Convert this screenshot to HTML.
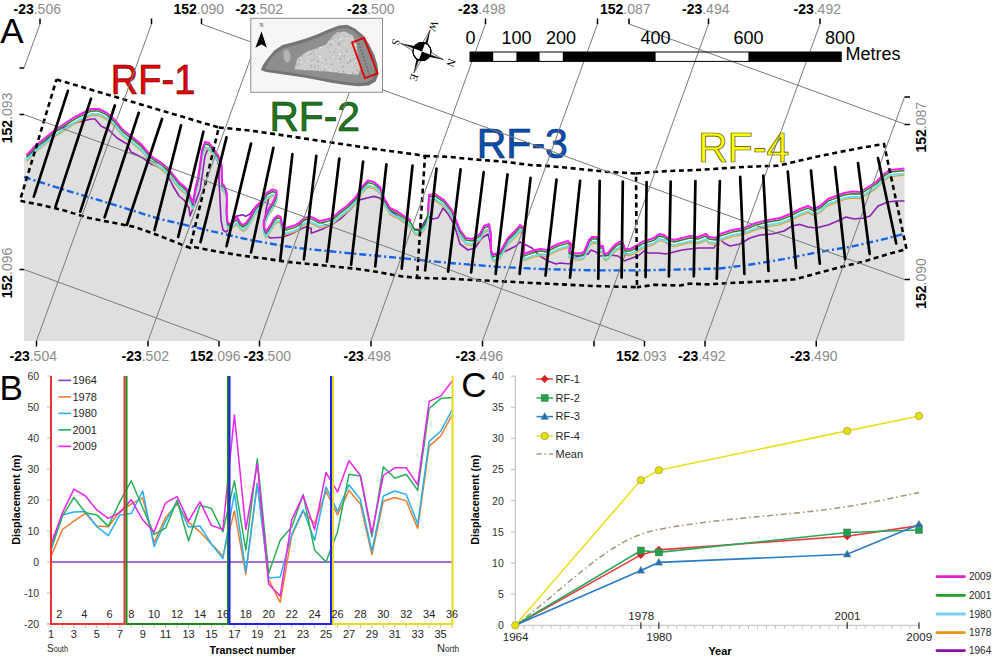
<!DOCTYPE html>
<html><head><meta charset="utf-8"><style>
html,body{margin:0;padding:0;background:#fff;}
svg{display:block;}
</style></head><body>
<svg width="1000" height="658" viewBox="0 0 1000 658">
<rect width="1000" height="658" fill="#fff"/>
<polygon points="24.0,341.0 24.0,157.5 26.5,156.7 28.0,155.2 35.0,148.4 45.0,142.6 55.0,136.6 64.0,130.6 73.0,124.6 81.0,120.6 91.0,115.6 99.0,115.6 107.0,119.6 115.0,126.6 123.0,136.6 131.0,142.6 141.0,150.6 151.0,162.6 163.0,170.6 171.0,178.6 179.0,188.6 186.0,194.6 190.0,202.6 193.0,209.6 195.0,196.6 198.0,184.6 200.0,171.6 202.0,156.6 205.0,148.6 209.0,149.6 213.0,154.6 218.0,161.6 221.6,171.6 222.0,189.6 225.0,193.6 227.0,200.6 226.5,216.6 227.5,228.6 230.0,231.1 234.0,226.1 237.6,224.6 240.0,229.1 243.0,231.6 246.5,229.1 250.5,223.1 255.0,214.6 259.9,209.3 266.8,199.4 272.7,196.0 276.7,197.5 276.2,202.4 272.7,209.3 269.3,214.3 266.3,220.2 263.8,227.1 263.8,233.1 265.8,238.0 268.0,235.6 271.3,230.1 274.2,225.1 277.7,222.2 280.6,223.2 281.6,228.6 283.6,235.0 289.5,233.6 294.5,232.1 298.4,230.1 301.4,227.1 305.4,224.2 309.3,223.2 314.0,224.6 319.0,227.6 325.0,226.6 332.0,224.6 340.0,217.6 348.0,211.6 356.0,203.6 361.0,194.6 368.0,187.0 374.0,188.6 380.0,193.6 384.0,204.6 390.0,214.6 398.0,218.6 404.0,222.6 409.0,225.6 411.0,227.6 415.0,234.6 420.0,235.6 425.0,228.6 428.0,218.6 429.0,201.6 435.0,200.6 444.0,206.6 452.0,216.6 456.0,226.6 460.0,236.6 466.0,244.6 472.0,245.6 480.0,240.6 484.0,232.6 489.0,230.6 491.0,240.6 491.0,256.6 493.0,261.6 500.0,258.6 508.0,244.6 516.0,236.6 520.0,231.6 523.0,233.6 524.0,250.6 524.0,260.6 532.0,257.6 540.0,255.6 548.0,256.6 550.0,254.6 558.0,250.6 568.0,247.6 571.0,250.6 569.0,257.6 572.0,259.6 580.0,260.2 584.0,258.6 589.0,246.6 592.0,243.6 597.0,243.6 599.0,246.6 600.0,252.6 603.0,252.6 604.0,259.6 606.0,260.6 608.0,259.6 612.0,254.6 616.0,250.6 620.0,248.6 623.0,249.6 625.0,255.6 630.0,255.6 636.0,252.6 642.0,248.6 648.0,246.6 654.0,244.6 659.0,240.6 664.0,241.6 668.0,244.6 674.0,246.6 682.0,244.6 690.0,242.6 698.0,243.6 706.0,240.6 709.0,243.6 716.0,244.6 720.0,240.6 732.0,236.6 744.0,234.6 756.0,229.6 768.0,226.6 780.0,224.6 790.0,220.6 800.0,215.6 808.0,212.6 814.0,215.6 820.0,212.6 828.0,205.6 836.0,202.6 844.0,199.6 852.0,198.2 860.0,198.6 868.0,193.6 876.0,188.6 884.0,180.6 890.0,176.6 900.0,175.6 904.5,175.2 904.5,341.0" fill="#dfdfdf"/>
<polyline points="26.5,155.5 28.0,155.0 41.0,146.0 55.0,131.0 65.0,127.0 75.0,123.0 91.0,119.0 95.0,119.0 101.0,126.0 109.0,130.0 117.0,138.0 127.0,144.0 131.0,152.0 143.0,158.0 151.0,164.0 161.0,168.0 167.0,174.0 173.0,186.0 179.0,196.0 184.0,200.0 189.0,208.0 190.0,216.0 194.0,206.0 200.0,190.0 203.0,170.0 205.0,156.0 208.0,149.0 212.0,150.0 216.0,156.0 219.0,166.0 219.0,180.0 220.0,200.0 221.0,220.0 223.0,230.0 226.0,232.0 230.0,228.0 236.0,216.4 242.4,214.8 245.6,216.4 250.0,214.0 256.0,206.0 261.9,200.8 268.8,197.8 266.0,210.0 264.8,221.5 264.0,232.0 270.0,238.0 282.6,237.3 294.5,232.4 300.0,229.2 306.4,226.8 311.2,228.4 311.2,233.2 316.0,231.6 324.0,228.4 332.0,224.4 341.6,218.0 351.2,208.4 357.6,200.4 367.2,198.0 373.6,196.4 380.0,198.0 384.0,204.0 392.0,212.0 400.0,218.0 408.0,224.0 413.0,229.0 420.0,229.5 428.0,216.0 432.0,219.0 438.0,218.0 443.0,208.0 448.0,214.0 454.0,224.0 460.0,244.0 468.0,250.0 475.0,248.0 482.0,238.0 488.0,234.0 490.0,242.0 491.0,254.0 498.0,254.0 506.0,251.0 516.0,246.0 520.0,242.0 524.0,244.0 528.0,246.0 532.0,248.0 540.0,256.0 548.0,261.0 556.0,264.0 560.0,263.0 570.0,264.0 572.0,258.0 580.0,256.0 588.0,254.0 591.0,250.0 596.0,252.0 600.0,256.0 610.0,255.0 618.0,256.0 624.0,261.0 632.0,258.0 638.0,256.0 644.0,251.0 648.0,253.0 658.0,253.0 666.0,254.0 674.0,252.0 682.0,250.0 690.0,249.0 698.0,248.0 708.0,248.0 714.0,248.0 716.0,244.0 720.0,239.0 724.0,243.0 730.0,246.0 740.0,244.0 750.0,238.0 760.0,235.0 772.0,234.0 784.0,231.0 792.0,226.0 800.0,224.4 808.0,227.0 816.0,228.0 828.0,225.0 840.0,220.0 846.0,217.0 854.0,219.0 864.0,218.0 870.0,216.0 878.0,206.0 888.0,202.0 896.0,201.0 904.5,201.0" fill="none" stroke="#8e1fb0" stroke-width="1.6" stroke-linejoin="round"/>
<polyline points="26.5,161.6 28.0,160.2 35.0,152.6 45.0,144.6 55.0,136.6 64.0,130.6 73.0,124.6 81.0,120.6 91.0,115.6 99.0,115.6 107.0,119.6 115.0,126.6 123.0,136.6 131.0,142.6 141.0,150.6 151.0,162.6 163.0,170.6 171.0,178.6 179.0,188.6 186.0,194.6 190.0,202.6 193.0,209.6 195.0,196.6 198.0,184.6 200.0,171.6 202.0,156.6 205.0,148.6 209.0,149.6 213.0,154.6 218.0,161.6 221.6,171.6 222.0,189.6 225.0,193.6 227.0,200.6 226.5,216.6 227.5,228.6 230.0,231.1 234.0,226.1 237.6,224.6 240.0,229.1 243.0,231.6 246.5,229.1 250.5,223.1 255.0,214.6 259.9,209.3 266.8,199.4 272.7,196.0 276.7,197.5 276.2,202.4 272.7,209.3 269.3,214.3 266.3,220.2 263.8,227.1 263.8,233.1 265.8,238.0 268.0,235.6 271.3,230.1 274.2,225.1 277.7,222.2 280.6,223.2 281.6,228.6 283.6,235.0 289.5,233.6 294.5,232.1 298.4,230.1 301.4,227.1 305.4,224.2 309.3,223.2 314.0,224.6 319.0,227.6 325.0,226.6 332.0,224.6 340.0,217.6 348.0,211.6 356.0,203.6 361.0,194.6 368.0,187.0 374.0,188.6 380.0,193.6 384.0,204.6 390.0,214.6 398.0,218.6 404.0,222.6 409.0,225.6 411.0,227.6 415.0,234.6 420.0,235.6 425.0,228.6 428.0,218.6 429.0,201.6 435.0,200.6 444.0,206.6 452.0,216.6 456.0,226.6 460.0,236.6 466.0,244.6 472.0,245.6 480.0,240.6 484.0,232.6 489.0,230.6 491.0,240.6 491.0,256.6 493.0,261.6 500.0,258.6 508.0,244.6 516.0,236.6 520.0,231.6 523.0,233.6 524.0,250.6 524.0,260.6 532.0,257.6 540.0,255.6 548.0,256.6 550.0,254.6 558.0,250.6 568.0,247.6 571.0,250.6 569.0,257.6 572.0,259.6 580.0,260.2 584.0,258.6 589.0,246.6 592.0,243.6 597.0,243.6 599.0,246.6 600.0,252.6 603.0,252.6 604.0,259.6 606.0,260.6 608.0,259.6 612.0,254.6 616.0,250.6 620.0,248.6 623.0,249.6 625.0,255.6 630.0,255.6 636.0,252.6 642.0,248.6 648.0,246.6 654.0,244.6 659.0,240.6 664.0,241.6 668.0,244.6 674.0,246.6 682.0,244.6 690.0,242.6 698.0,243.6 706.0,240.6 709.0,243.6 716.0,244.6 720.0,240.6 732.0,236.6 744.0,234.6 756.0,229.6 768.0,226.6 780.0,224.6 790.0,220.6 800.0,215.6 808.0,212.6 814.0,215.6 820.0,212.6 828.0,205.6 836.0,202.6 844.0,199.6 852.0,198.2 860.0,198.6 868.0,193.6 876.0,188.6 884.0,180.6 890.0,176.6 900.0,175.6 904.5,175.2" fill="none" stroke="#e8a020" stroke-width="1.3" stroke-linejoin="round"/>
<polyline points="26.5,160.1 28.0,158.7 35.0,151.1 45.0,143.1 55.0,135.1 64.0,129.1 73.0,123.1 81.0,119.1 91.0,114.1 99.0,114.1 107.0,118.1 115.0,125.1 123.0,135.1 131.0,141.1 141.0,149.1 151.0,161.1 163.0,169.1 171.0,177.1 179.0,187.1 186.0,193.1 190.0,201.1 193.0,208.1 195.0,195.1 198.0,183.1 200.0,170.1 202.0,155.1 205.0,147.1 209.0,148.1 213.0,153.1 218.0,160.1 221.6,170.1 222.0,188.1 225.0,192.1 227.0,199.1 226.5,215.1 227.5,227.1 230.0,229.6 234.0,224.6 237.6,223.1 240.0,227.6 243.0,230.1 246.5,227.6 250.5,221.6 255.0,213.1 259.9,207.8 266.8,197.9 272.7,194.5 276.7,196.0 276.2,200.9 272.7,207.8 269.3,212.8 266.3,218.7 263.8,225.6 263.8,231.6 265.8,236.5 268.0,234.1 271.3,228.6 274.2,223.6 277.7,220.7 280.6,221.7 281.6,227.1 283.6,233.5 289.5,232.1 294.5,230.6 298.4,228.6 301.4,225.6 305.4,222.7 309.3,221.7 314.0,223.1 319.0,226.1 325.0,225.1 332.0,223.1 340.0,216.1 348.0,210.1 356.0,202.1 361.0,193.1 368.0,185.5 374.0,187.1 380.0,192.1 384.0,203.1 390.0,213.1 398.0,217.1 404.0,221.1 409.0,224.1 411.0,226.1 415.0,233.1 420.0,234.1 425.0,227.1 428.0,217.1 429.0,200.1 435.0,199.1 444.0,205.1 452.0,215.1 456.0,225.1 460.0,235.1 466.0,243.1 472.0,244.1 480.0,239.1 484.0,231.1 489.0,229.1 491.0,239.1 491.0,255.1 493.0,260.1 500.0,257.1 508.0,243.1 516.0,235.1 520.0,230.1 523.0,232.1 524.0,249.1 524.0,259.1 532.0,256.1 540.0,254.1 548.0,255.1 550.0,253.1 558.0,249.1 568.0,246.1 571.0,249.1 569.0,256.1 572.0,258.1 580.0,258.7 584.0,257.1 589.0,245.1 592.0,242.1 597.0,242.1 599.0,245.1 600.0,251.1 603.0,251.1 604.0,258.1 606.0,259.1 608.0,258.1 612.0,253.1 616.0,249.1 620.0,247.1 623.0,248.1 625.0,254.1 630.0,254.1 636.0,251.1 642.0,247.1 648.0,245.1 654.0,243.1 659.0,239.1 664.0,240.1 668.0,243.1 674.0,245.1 682.0,243.1 690.0,241.1 698.0,242.1 706.0,239.1 709.0,242.1 716.0,243.1 720.0,239.1 732.0,235.1 744.0,233.1 756.0,228.1 768.0,225.1 780.0,223.1 790.0,219.1 800.0,214.1 808.0,211.1 814.0,214.1 820.0,211.1 828.0,204.1 836.0,201.1 844.0,198.1 852.0,196.7 860.0,197.1 868.0,192.1 876.0,187.1 884.0,179.1 890.0,175.1 900.0,174.1 904.5,173.7" fill="none" stroke="#66ddf5" stroke-width="2.0" stroke-linejoin="round"/>
<polyline points="26.5,157.1 28.0,155.7 35.0,148.1 45.0,140.1 55.0,132.1 64.0,126.1 73.0,120.1 81.0,116.1 91.0,111.1 99.0,111.1 107.0,115.1 115.0,122.1 123.0,132.1 131.0,138.1 141.0,146.1 151.0,158.1 163.0,166.1 171.0,174.1 179.0,184.1 186.0,190.1 190.0,198.1 193.0,205.1 195.0,192.1 198.0,180.1 200.0,167.1 202.0,152.1 205.0,144.1 209.0,145.1 213.0,150.1 218.0,157.1 221.6,167.1 222.0,185.1 225.0,189.1 227.0,196.1 226.5,212.1 227.5,224.1 230.0,226.6 234.0,221.6 237.6,220.1 240.0,224.6 243.0,227.1 246.5,224.6 250.5,218.6 255.0,210.1 259.9,204.8 266.8,194.9 272.7,191.5 276.7,193.0 276.2,197.9 272.7,204.8 269.3,209.8 266.3,215.7 263.8,222.6 263.8,228.6 265.8,233.5 268.0,231.1 271.3,225.6 274.2,220.6 277.7,217.7 280.6,218.7 281.6,224.1 283.6,230.5 289.5,229.1 294.5,227.6 298.4,225.6 301.4,222.6 305.4,219.7 309.3,218.7 314.0,220.1 319.0,223.1 325.0,222.1 332.0,220.1 340.0,213.1 348.0,207.1 356.0,199.1 361.0,190.1 368.0,182.5 374.0,184.1 380.0,189.1 384.0,200.1 390.0,210.1 398.0,214.1 404.0,218.1 409.0,221.1 411.0,223.1 415.0,230.1 420.0,231.1 425.0,224.1 428.0,214.1 429.0,197.1 435.0,196.1 444.0,202.1 452.0,212.1 456.0,222.1 460.0,232.1 466.0,240.1 472.0,241.1 480.0,236.1 484.0,228.1 489.0,226.1 491.0,236.1 491.0,252.1 493.0,257.1 500.0,254.1 508.0,240.1 516.0,232.1 520.0,227.1 523.0,229.1 524.0,246.1 524.0,256.1 532.0,253.1 540.0,251.1 548.0,252.1 550.0,250.1 558.0,246.1 568.0,243.1 571.0,246.1 569.0,253.1 572.0,255.1 580.0,255.7 584.0,254.1 589.0,242.1 592.0,239.1 597.0,239.1 599.0,242.1 600.0,248.1 603.0,248.1 604.0,255.1 606.0,256.1 608.0,255.1 612.0,250.1 616.0,246.1 620.0,244.1 623.0,245.1 625.0,251.1 630.0,251.1 636.0,248.1 642.0,244.1 648.0,242.1 654.0,240.1 659.0,236.1 664.0,237.1 668.0,240.1 674.0,242.1 682.0,240.1 690.0,238.1 698.0,239.1 706.0,236.1 709.0,239.1 716.0,240.1 720.0,236.1 732.0,232.1 744.0,230.1 756.0,225.1 768.0,222.1 780.0,220.1 790.0,216.1 800.0,211.1 808.0,208.1 814.0,211.1 820.0,208.1 828.0,201.1 836.0,198.1 844.0,195.1 852.0,193.7 860.0,194.1 868.0,189.1 876.0,184.1 884.0,176.1 890.0,172.1 900.0,171.1 904.5,170.7" fill="none" stroke="#1d861d" stroke-width="1.5" stroke-linejoin="round"/>
<polyline points="26.5,155.0 28.0,153.6 35.0,146.0 45.0,138.0 55.0,130.0 64.0,124.0 73.0,118.0 81.0,114.0 91.0,109.0 99.0,109.0 107.0,113.0 115.0,120.0 123.0,130.0 131.0,136.0 141.0,144.0 151.0,156.0 163.0,164.0 171.0,172.0 179.0,182.0 186.0,188.0 190.0,196.0 193.0,203.0 195.0,190.0 198.0,178.0 200.0,165.0 202.0,150.0 205.0,142.0 209.0,143.0 213.0,148.0 218.0,155.0 221.6,165.0 222.0,183.0 225.0,187.0 227.0,194.0 226.5,210.0 227.5,222.0 230.0,224.5 234.0,219.5 237.6,218.0 240.0,222.5 243.0,225.0 246.5,222.5 250.5,216.5 255.0,208.0 259.9,202.7 266.8,192.8 272.7,189.4 276.7,190.9 276.2,195.8 272.7,202.7 269.3,207.7 266.3,213.6 263.8,220.5 263.8,226.5 265.8,231.4 268.0,229.0 271.3,223.5 274.2,218.5 277.7,215.6 280.6,216.6 281.6,222.0 283.6,228.4 289.5,227.0 294.5,225.5 298.4,223.5 301.4,220.5 305.4,217.6 309.3,216.6 314.0,218.0 319.0,221.0 325.0,220.0 332.0,218.0 340.0,211.0 348.0,205.0 356.0,197.0 361.0,188.0 368.0,180.4 374.0,182.0 380.0,187.0 384.0,198.0 390.0,208.0 398.0,212.0 404.0,216.0 409.0,219.0 411.0,221.0" fill="none" stroke="#ff1cf0" stroke-width="2.0" stroke-linejoin="round"/>
<polyline points="428.0,212.0 429.0,195.0 435.0,194.0 444.0,200.0 452.0,210.0 456.0,220.0 460.0,230.0 466.0,238.0 472.0,239.0 480.0,234.0 484.0,226.0 489.0,224.0 491.0,234.0 491.0,250.0 493.0,255.0 500.0,252.0 508.0,238.0 516.0,230.0 520.0,225.0 523.0,227.0 524.0,244.0 524.0,254.0 532.0,251.0 540.0,249.0 548.0,250.0 550.0,248.0 558.0,244.0 568.0,241.0 571.0,244.0 569.0,251.0 572.0,253.0 580.0,253.6 584.0,252.0 589.0,240.0 592.0,237.0 597.0,237.0 599.0,240.0 600.0,246.0 603.0,246.0 604.0,253.0 606.0,254.0 608.0,253.0 612.0,248.0 616.0,244.0 620.0,242.0 623.0,243.0 625.0,249.0 630.0,249.0 636.0,246.0 642.0,242.0 648.0,240.0 654.0,238.0 659.0,234.0 664.0,235.0 668.0,238.0 674.0,240.0 682.0,238.0 690.0,236.0 698.0,237.0 706.0,234.0 709.0,237.0 716.0,238.0 720.0,234.0 732.0,230.0 744.0,228.0 756.0,223.0 768.0,220.0 780.0,218.0 790.0,214.0 800.0,209.0 808.0,206.0 814.0,209.0 820.0,206.0 828.0,199.0 836.0,196.0 844.0,193.0 852.0,191.6 860.0,192.0 868.0,187.0 876.0,182.0 884.0,174.0 890.0,170.0 900.0,169.0 904.5,168.6" fill="none" stroke="#ff1cf0" stroke-width="2.0" stroke-linejoin="round"/>
<polyline points="24.0,177.0 66.0,190.3 112.0,204.1 158.0,218.5 204.0,229.4 250.0,240.0 286.0,246.3 300.0,248.2 332.0,251.5 360.0,254.2 410.0,259.0 450.0,263.0 498.0,266.8 546.0,269.2 594.0,270.4 642.0,270.4 690.0,269.2 720.0,268.5 749.0,264.8 783.5,259.1 818.0,252.2 852.5,246.4 887.0,238.4 904.5,233.8" fill="none" stroke="#1464e6" stroke-width="2.4" stroke-dasharray="7,3,2,3"/>
<polyline points="56.5,79.5 218.8,127.5 190.0,247.8 181.0,244.4 158.0,235.2 135.0,227.0 112.0,222.5 89.0,218.0 66.0,211.0 43.0,205.3 24.6,201.8 20.0,200.5 56.5,79.5" fill="none" stroke="#000" stroke-width="2.6" stroke-dasharray="5,3.6"/>
<polyline points="218.8,127.5 250.0,130.5 290.0,136.3 332.0,142.6 374.0,148.9 416.0,154.5 425.0,156.0 417.0,277.8 401.0,276.3 378.0,272.1 355.0,268.6 332.0,266.3 309.0,264.0 286.0,261.7 263.0,258.3 244.6,256.0 215.5,251.3 192.5,246.7 190.0,247.8" fill="none" stroke="#000" stroke-width="2.6" stroke-dasharray="5,3.6"/>
<polyline points="425.0,156.0 448.0,156.8 476.0,159.6 504.0,161.7 532.0,165.2 550.0,166.1 578.0,168.9 606.0,171.7 636.0,173.5 637.0,287.2 594.0,286.0 546.0,283.6 498.0,281.2 450.0,278.8 417.0,277.8" fill="none" stroke="#000" stroke-width="2.6" stroke-dasharray="5,3.6"/>
<polyline points="636.0,173.5 648.0,172.4 669.0,171.0 690.0,170.3 710.8,169.2 729.0,167.8 750.0,166.7 778.0,165.7 799.0,160.8 820.0,155.9 860.0,148.0 884.0,144.0 906.5,249.0 887.0,254.5 864.0,261.4 841.0,267.0 818.0,273.0 795.0,279.3 772.0,281.0 749.0,282.1 726.0,283.2 707.6,284.4 690.0,283.6 680.0,285.5 654.0,284.8 637.0,287.2" fill="none" stroke="#000" stroke-width="2.6" stroke-dasharray="5,3.6"/>
<text x="110.8" y="94" font-family='"Liberation Sans", sans-serif' font-size="42" fill="#f00000" stroke="#600000" stroke-width="0.7" textLength="84.5" lengthAdjust="spacingAndGlyphs">RF-1</text>
<text x="269.5" y="130.5" font-family='"Liberation Sans", sans-serif' font-size="42" fill="#1c7a1c" stroke="#0c3c0c" stroke-width="0.7" textLength="90.3" lengthAdjust="spacingAndGlyphs">RF-2</text>
<text x="476.8" y="157.5" font-family='"Liberation Sans", sans-serif' font-size="42" fill="#0a4fb0" stroke="#062e6a" stroke-width="0.7" textLength="91" lengthAdjust="spacingAndGlyphs">RF-3</text>
<text x="698.3" y="162" font-family='"Liberation Sans", sans-serif' font-size="42" fill="#ffff00" stroke="#4a4a00" stroke-width="0.7" textLength="91" lengthAdjust="spacingAndGlyphs">RF-4</text>
<line x1="40" y1="24" x2="24" y2="68" stroke="#7a7a7a" stroke-width="1"/>
<line x1="151.5" y1="24" x2="36.5" y2="341" stroke="#7a7a7a" stroke-width="1"/>
<line x1="263" y1="24" x2="148" y2="341" stroke="#7a7a7a" stroke-width="1"/>
<line x1="374" y1="24" x2="259.5" y2="341" stroke="#7a7a7a" stroke-width="1"/>
<line x1="485.5" y1="24" x2="371" y2="341" stroke="#7a7a7a" stroke-width="1"/>
<line x1="597.5" y1="24" x2="482.5" y2="341" stroke="#7a7a7a" stroke-width="1"/>
<line x1="708.5" y1="24" x2="594" y2="341" stroke="#7a7a7a" stroke-width="1"/>
<line x1="820" y1="24" x2="705" y2="341" stroke="#7a7a7a" stroke-width="1"/>
<line x1="904.5" y1="97" x2="816" y2="341" stroke="#7a7a7a" stroke-width="1"/>
<line x1="629" y1="24" x2="904.5" y2="124" stroke="#7a7a7a" stroke-width="1"/>
<line x1="201.5" y1="24" x2="904.5" y2="279.5" stroke="#7a7a7a" stroke-width="1"/>
<line x1="24" y1="114.5" x2="644.5" y2="341" stroke="#7a7a7a" stroke-width="1"/>
<line x1="24" y1="269.5" x2="219" y2="341" stroke="#7a7a7a" stroke-width="1"/>
<line x1="67.9" y1="90.9" x2="33.8" y2="196.6" stroke="#000" stroke-width="2.7" stroke-linecap="round"/>
<line x1="91" y1="98.7" x2="55.6" y2="206.4" stroke="#000" stroke-width="2.7" stroke-linecap="round"/>
<line x1="114.8" y1="105.5" x2="80.3" y2="211.7" stroke="#000" stroke-width="2.7" stroke-linecap="round"/>
<line x1="138.7" y1="112.8" x2="104.6" y2="217.3" stroke="#000" stroke-width="2.7" stroke-linecap="round"/>
<line x1="162" y1="119" x2="126.9" y2="224.8" stroke="#000" stroke-width="2.7" stroke-linecap="round"/>
<line x1="181" y1="125.4" x2="154.5" y2="230.1" stroke="#000" stroke-width="2.7" stroke-linecap="round"/>
<line x1="203.4" y1="131.7" x2="178.2" y2="237" stroke="#000" stroke-width="2.7" stroke-linecap="round"/>
<line x1="226.5" y1="137.3" x2="200.5" y2="242.1" stroke="#000" stroke-width="2.7" stroke-linecap="round"/>
<line x1="251" y1="143.6" x2="226.5" y2="246.2" stroke="#000" stroke-width="2.7" stroke-linecap="round"/>
<line x1="273.4" y1="147.8" x2="251" y2="252.5" stroke="#000" stroke-width="2.7" stroke-linecap="round"/>
<line x1="292.4" y1="154.1" x2="280.2" y2="260.6" stroke="#000" stroke-width="2.7" stroke-linecap="round"/>
<line x1="316.3" y1="155.9" x2="303.9" y2="259.4" stroke="#000" stroke-width="2.7" stroke-linecap="round"/>
<line x1="339.3" y1="158.7" x2="326.9" y2="261.7" stroke="#000" stroke-width="2.7" stroke-linecap="round"/>
<line x1="363.1" y1="161.5" x2="351.1" y2="264.7" stroke="#000" stroke-width="2.7" stroke-linecap="round"/>
<line x1="386.4" y1="164.3" x2="375.2" y2="266.3" stroke="#000" stroke-width="2.7" stroke-linecap="round"/>
<line x1="412.5" y1="165.7" x2="401.7" y2="268.6" stroke="#000" stroke-width="2.7" stroke-linecap="round"/>
<line x1="436.5" y1="168.7" x2="425.1" y2="270.3" stroke="#000" stroke-width="2.7" stroke-linecap="round"/>
<line x1="460.6" y1="169.4" x2="448.1" y2="271.6" stroke="#000" stroke-width="2.7" stroke-linecap="round"/>
<line x1="483.7" y1="172.2" x2="471.1" y2="272.3" stroke="#000" stroke-width="2.7" stroke-linecap="round"/>
<line x1="507.5" y1="174.3" x2="495.6" y2="274" stroke="#000" stroke-width="2.7" stroke-linecap="round"/>
<line x1="530.6" y1="177.8" x2="519.6" y2="274" stroke="#000" stroke-width="2.7" stroke-linecap="round"/>
<line x1="556.5" y1="179.7" x2="545.5" y2="275.7" stroke="#000" stroke-width="2.7" stroke-linecap="round"/>
<line x1="580.1" y1="180.8" x2="570" y2="277.6" stroke="#000" stroke-width="2.7" stroke-linecap="round"/>
<line x1="599.7" y1="180.8" x2="598.3" y2="278.8" stroke="#000" stroke-width="2.7" stroke-linecap="round"/>
<line x1="622.8" y1="181.5" x2="621.6" y2="277.6" stroke="#000" stroke-width="2.7" stroke-linecap="round"/>
<line x1="646.6" y1="182.2" x2="645.6" y2="277.1" stroke="#000" stroke-width="2.7" stroke-linecap="round"/>
<line x1="670.7" y1="181.5" x2="668.9" y2="276.4" stroke="#000" stroke-width="2.7" stroke-linecap="round"/>
<line x1="695.4" y1="181.1" x2="693.8" y2="276.3" stroke="#000" stroke-width="2.7" stroke-linecap="round"/>
<line x1="719.9" y1="181.1" x2="716.8" y2="278.6" stroke="#000" stroke-width="2.7" stroke-linecap="round"/>
<line x1="740.2" y1="176.9" x2="744.4" y2="274" stroke="#000" stroke-width="2.7" stroke-linecap="round"/>
<line x1="763.3" y1="175.5" x2="768.5" y2="271" stroke="#000" stroke-width="2.7" stroke-linecap="round"/>
<line x1="787.8" y1="171.7" x2="796.1" y2="267.8" stroke="#000" stroke-width="2.7" stroke-linecap="round"/>
<line x1="811" y1="170.6" x2="819.8" y2="263.7" stroke="#000" stroke-width="2.7" stroke-linecap="round"/>
<line x1="835" y1="167" x2="845.1" y2="259.1" stroke="#000" stroke-width="2.7" stroke-linecap="round"/>
<line x1="858" y1="163" x2="869.7" y2="254" stroke="#000" stroke-width="2.7" stroke-linecap="round"/>
<line x1="878" y1="158" x2="896.2" y2="243.5" stroke="#000" stroke-width="2.7" stroke-linecap="round"/>
<line x1="40" y1="18.5" x2="40" y2="24" stroke="#000" stroke-width="1.5"/>
<line x1="151.5" y1="18.5" x2="151.5" y2="24" stroke="#000" stroke-width="1.5"/>
<line x1="263" y1="18.5" x2="263" y2="24" stroke="#000" stroke-width="1.5"/>
<line x1="374" y1="18.5" x2="374" y2="24" stroke="#000" stroke-width="1.5"/>
<line x1="485.5" y1="18.5" x2="485.5" y2="24" stroke="#000" stroke-width="1.5"/>
<line x1="597.5" y1="18.5" x2="597.5" y2="24" stroke="#000" stroke-width="1.5"/>
<line x1="629" y1="18.5" x2="629" y2="24" stroke="#000" stroke-width="1.5"/>
<line x1="708.5" y1="18.5" x2="708.5" y2="24" stroke="#000" stroke-width="1.5"/>
<line x1="820" y1="18.5" x2="820" y2="24" stroke="#000" stroke-width="1.5"/>
<line x1="201.5" y1="18.5" x2="201.5" y2="24" stroke="#000" stroke-width="1.5"/>
<line x1="36.5" y1="341" x2="36.5" y2="346.5" stroke="#000" stroke-width="1.5"/>
<line x1="148" y1="341" x2="148" y2="346.5" stroke="#000" stroke-width="1.5"/>
<line x1="259.5" y1="341" x2="259.5" y2="346.5" stroke="#000" stroke-width="1.5"/>
<line x1="371" y1="341" x2="371" y2="346.5" stroke="#000" stroke-width="1.5"/>
<line x1="482.5" y1="341" x2="482.5" y2="346.5" stroke="#000" stroke-width="1.5"/>
<line x1="594" y1="341" x2="594" y2="346.5" stroke="#000" stroke-width="1.5"/>
<line x1="644.5" y1="341" x2="644.5" y2="346.5" stroke="#000" stroke-width="1.5"/>
<line x1="705" y1="341" x2="705" y2="346.5" stroke="#000" stroke-width="1.5"/>
<line x1="816.25" y1="341" x2="816.25" y2="346.5" stroke="#000" stroke-width="1.5"/>
<line x1="219" y1="341" x2="219" y2="346.5" stroke="#000" stroke-width="1.5"/>
<line x1="19.5" y1="68" x2="24" y2="68" stroke="#000" stroke-width="1.5"/>
<line x1="19.5" y1="114.5" x2="24" y2="114.5" stroke="#000" stroke-width="1.5"/>
<line x1="19.5" y1="269.5" x2="24" y2="269.5" stroke="#000" stroke-width="1.5"/>
<line x1="904.5" y1="97" x2="910" y2="97" stroke="#000" stroke-width="1.5"/>
<line x1="904.5" y1="124.5" x2="910" y2="124.5" stroke="#000" stroke-width="1.5"/>
<line x1="904.5" y1="279.5" x2="910" y2="279.5" stroke="#000" stroke-width="1.5"/>
<text x="13.5" y="13.5" font-family='"Liberation Sans", sans-serif' font-size="14"><tspan font-weight="bold" fill="#000">-23</tspan><tspan fill="#8c8c8c">.506</tspan></text>
<text x="173.5" y="13.5" font-family='"Liberation Sans", sans-serif' font-size="14"><tspan font-weight="bold" fill="#000">152</tspan><tspan fill="#8c8c8c">.090</tspan></text>
<text x="235.5" y="13.5" font-family='"Liberation Sans", sans-serif' font-size="14"><tspan font-weight="bold" fill="#000">-23</tspan><tspan fill="#8c8c8c">.502</tspan></text>
<text x="347" y="13.5" font-family='"Liberation Sans", sans-serif' font-size="14"><tspan font-weight="bold" fill="#000">-23</tspan><tspan fill="#8c8c8c">.500</tspan></text>
<text x="458" y="13.5" font-family='"Liberation Sans", sans-serif' font-size="14"><tspan font-weight="bold" fill="#000">-23</tspan><tspan fill="#8c8c8c">.498</tspan></text>
<text x="600" y="13.5" font-family='"Liberation Sans", sans-serif' font-size="14"><tspan font-weight="bold" fill="#000">152</tspan><tspan fill="#8c8c8c">.087</tspan></text>
<text x="682" y="13.5" font-family='"Liberation Sans", sans-serif' font-size="14"><tspan font-weight="bold" fill="#000">-23</tspan><tspan fill="#8c8c8c">.494</tspan></text>
<text x="793.5" y="13.5" font-family='"Liberation Sans", sans-serif' font-size="14"><tspan font-weight="bold" fill="#000">-23</tspan><tspan fill="#8c8c8c">.492</tspan></text>
<text x="9.5" y="361" font-family='"Liberation Sans", sans-serif' font-size="14"><tspan font-weight="bold" fill="#000">-23</tspan><tspan fill="#8c8c8c">.504</tspan></text>
<text x="121.5" y="361" font-family='"Liberation Sans", sans-serif' font-size="14"><tspan font-weight="bold" fill="#000">-23</tspan><tspan fill="#8c8c8c">.502</tspan></text>
<text x="190" y="361" font-family='"Liberation Sans", sans-serif' font-size="14"><tspan font-weight="bold" fill="#000">152</tspan><tspan fill="#8c8c8c">.096</tspan></text>
<text x="243.5" y="361" font-family='"Liberation Sans", sans-serif' font-size="14"><tspan font-weight="bold" fill="#000">-23</tspan><tspan fill="#8c8c8c">.500</tspan></text>
<text x="343.5" y="361" font-family='"Liberation Sans", sans-serif' font-size="14"><tspan font-weight="bold" fill="#000">-23</tspan><tspan fill="#8c8c8c">.498</tspan></text>
<text x="455.5" y="361" font-family='"Liberation Sans", sans-serif' font-size="14"><tspan font-weight="bold" fill="#000">-23</tspan><tspan fill="#8c8c8c">.496</tspan></text>
<text x="616" y="361" font-family='"Liberation Sans", sans-serif' font-size="14"><tspan font-weight="bold" fill="#000">152</tspan><tspan fill="#8c8c8c">.093</tspan></text>
<text x="678" y="361" font-family='"Liberation Sans", sans-serif' font-size="14"><tspan font-weight="bold" fill="#000">-23</tspan><tspan fill="#8c8c8c">.492</tspan></text>
<text x="790" y="361" font-family='"Liberation Sans", sans-serif' font-size="14"><tspan font-weight="bold" fill="#000">-23</tspan><tspan fill="#8c8c8c">.490</tspan></text>
<text x="12.4" y="143.3" font-family='"Liberation Sans", sans-serif' font-size="14" transform="rotate(-90 12.4 143.3)"><tspan font-weight="bold" fill="#000">152</tspan><tspan fill="#8c8c8c">.093</tspan></text>
<text x="12.4" y="298.3" font-family='"Liberation Sans", sans-serif' font-size="14" transform="rotate(-90 12.4 298.3)"><tspan font-weight="bold" fill="#000">152</tspan><tspan fill="#8c8c8c">.096</tspan></text>
<text x="925.8" y="152.6" font-family='"Liberation Sans", sans-serif' font-size="14" transform="rotate(-90 925.8 152.6)"><tspan font-weight="bold" fill="#000">152</tspan><tspan fill="#8c8c8c">.087</tspan></text>
<text x="925.8" y="308.8" font-family='"Liberation Sans", sans-serif' font-size="14" transform="rotate(-90 925.8 308.8)"><tspan font-weight="bold" fill="#000">152</tspan><tspan fill="#8c8c8c">.090</tspan></text>
<rect x="250.8" y="18.3" width="131.7" height="74" fill="#f6f6f6" stroke="#8f8f8f" stroke-width="1"/>
<filter id="blr" x="-5%" y="-5%" width="110%" height="110%"><feGaussianBlur stdDeviation="0.6"/></filter>
<polygon points="260.8,70.0 263.5,64.0 267.6,58.5 274.3,50.4 282.4,45.0 293.2,42.3 306.7,38.3 317.5,34.2 328.3,29.5 339.1,25.4 347.2,24.8 355.3,28.8 363.4,35.6 368.8,43.7 374.2,54.5 377.6,65.3 378.3,74.7 375.6,81.5 368.8,85.5 358.0,86.2 344.5,84.8 331.0,82.8 317.5,80.1 304.0,77.4 290.5,75.4 277.0,73.4 266.2,72.0" fill="#747474" filter="url(#blr)"/>
<polygon points="265.0,69.0 270.0,60.0 276.0,53.0 284.0,48.0 294.0,45.5 307.0,41.5 318.0,37.5 329.0,32.8 339.0,28.8 347.0,28.0 354.0,31.5 361.0,38.0 366.0,46.0 371.0,56.0 374.0,66.0 374.5,74.0 372.0,79.5 366.0,82.5 357.0,83.0 344.5,81.8 331.0,79.8 317.5,77.2 304.0,74.6 290.5,72.6 277.0,70.8" fill="#8e8e8e"/>
<polygon points="283.5,51.0 288.0,49.5 290.5,55.0 290.0,61.0 286.5,63.0 283.5,58.0" fill="#b4b4b4"/>
<polygon points="294.6,69.3 297.3,58.5 306.7,51.8 317.5,47.7 325.6,45.0 331.0,38.3 336.4,32.9 344.5,31.5 352.6,35.6 356.7,45.0 358.0,58.5 360.7,69.3 358.0,74.7 344.5,73.4 331.0,72.0 317.5,70.7 304.0,70.0" fill="#cdcdcd"/>
<circle cx="337.6" cy="34.2" r="0.4" fill="#e8e8e8"/>
<circle cx="333.0" cy="71.0" r="0.4" fill="#a8a8a8"/>
<circle cx="349.4" cy="36.4" r="0.7" fill="#a8a8a8"/>
<circle cx="308.8" cy="55.5" r="0.5" fill="#a8a8a8"/>
<circle cx="314.7" cy="66.9" r="0.5" fill="#a8a8a8"/>
<circle cx="332.3" cy="39.3" r="0.7" fill="#9a9a9a"/>
<circle cx="307.8" cy="60.9" r="0.8" fill="#e4e4e4"/>
<circle cx="306.0" cy="65.3" r="0.7" fill="#9a9a9a"/>
<circle cx="329.2" cy="69.5" r="0.5" fill="#e4e4e4"/>
<circle cx="322.0" cy="64.3" r="0.9" fill="#a8a8a8"/>
<circle cx="346.9" cy="67.0" r="0.7" fill="#b6b6b6"/>
<circle cx="333.8" cy="56.5" r="0.4" fill="#e4e4e4"/>
<circle cx="340.7" cy="33.9" r="0.7" fill="#b6b6b6"/>
<circle cx="345.5" cy="36.7" r="0.6" fill="#a8a8a8"/>
<circle cx="355.4" cy="52.8" r="0.6" fill="#a8a8a8"/>
<circle cx="330.8" cy="69.9" r="0.8" fill="#e4e4e4"/>
<circle cx="318.0" cy="69.9" r="0.5" fill="#a8a8a8"/>
<circle cx="309.6" cy="52.3" r="0.5" fill="#e8e8e8"/>
<circle cx="329.8" cy="57.8" r="0.9" fill="#b6b6b6"/>
<circle cx="340.3" cy="53.7" r="0.7" fill="#e8e8e8"/>
<circle cx="343.6" cy="51.1" r="0.6" fill="#e8e8e8"/>
<circle cx="336.5" cy="33.7" r="0.9" fill="#9a9a9a"/>
<circle cx="334.2" cy="35.5" r="0.5" fill="#e8e8e8"/>
<circle cx="335.1" cy="37.5" r="0.9" fill="#b6b6b6"/>
<circle cx="334.4" cy="51.9" r="0.8" fill="#9a9a9a"/>
<circle cx="311.7" cy="67.5" r="0.7" fill="#a8a8a8"/>
<circle cx="318.2" cy="61.4" r="0.8" fill="#9a9a9a"/>
<circle cx="314.0" cy="59.3" r="0.7" fill="#9a9a9a"/>
<circle cx="305.2" cy="65.0" r="0.7" fill="#e8e8e8"/>
<circle cx="327.7" cy="59.0" r="0.8" fill="#e8e8e8"/>
<circle cx="360.0" cy="68.5" r="0.8" fill="#a8a8a8"/>
<circle cx="343.6" cy="41.0" r="0.6" fill="#e8e8e8"/>
<circle cx="346.9" cy="51.8" r="0.7" fill="#a8a8a8"/>
<circle cx="356.8" cy="74.5" r="0.4" fill="#b6b6b6"/>
<circle cx="316.6" cy="52.2" r="0.8" fill="#e8e8e8"/>
<circle cx="326.1" cy="59.7" r="0.8" fill="#9a9a9a"/>
<circle cx="341.7" cy="39.8" r="0.6" fill="#a8a8a8"/>
<circle cx="336.6" cy="34.8" r="0.6" fill="#e4e4e4"/>
<circle cx="343.8" cy="34.7" r="0.5" fill="#a8a8a8"/>
<circle cx="354.6" cy="66.5" r="0.7" fill="#a8a8a8"/>
<circle cx="333.9" cy="51.9" r="0.5" fill="#b6b6b6"/>
<circle cx="347.6" cy="63.0" r="0.7" fill="#9a9a9a"/>
<circle cx="356.6" cy="50.1" r="0.8" fill="#a8a8a8"/>
<circle cx="333.3" cy="42.4" r="0.8" fill="#e4e4e4"/>
<circle cx="298.1" cy="63.6" r="0.7" fill="#e4e4e4"/>
<circle cx="348.6" cy="53.7" r="0.5" fill="#e8e8e8"/>
<circle cx="352.5" cy="65.2" r="0.4" fill="#e8e8e8"/>
<circle cx="347.5" cy="38.6" r="0.7" fill="#e4e4e4"/>
<circle cx="339.7" cy="54.4" r="0.8" fill="#e4e4e4"/>
<circle cx="345.7" cy="53.3" r="0.4" fill="#e8e8e8"/>
<circle cx="334.6" cy="39.8" r="0.6" fill="#b6b6b6"/>
<circle cx="329.7" cy="52.0" r="0.7" fill="#a8a8a8"/>
<circle cx="352.7" cy="72.5" r="0.9" fill="#b6b6b6"/>
<circle cx="353.8" cy="39.9" r="0.5" fill="#e4e4e4"/>
<circle cx="298.9" cy="60.5" r="0.8" fill="#9a9a9a"/>
<circle cx="304.3" cy="62.5" r="0.5" fill="#b6b6b6"/>
<circle cx="353.1" cy="73.6" r="0.8" fill="#a8a8a8"/>
<circle cx="304.9" cy="60.4" r="0.5" fill="#a8a8a8"/>
<circle cx="322.9" cy="53.7" r="0.6" fill="#b6b6b6"/>
<circle cx="324.7" cy="61.9" r="0.6" fill="#e4e4e4"/>
<circle cx="335.8" cy="53.5" r="0.5" fill="#9a9a9a"/>
<circle cx="306.2" cy="64.3" r="0.8" fill="#e4e4e4"/>
<circle cx="339.3" cy="72.6" r="0.5" fill="#e4e4e4"/>
<circle cx="355.6" cy="56.1" r="0.4" fill="#b6b6b6"/>
<circle cx="297.9" cy="61.3" r="0.8" fill="#e4e4e4"/>
<circle cx="334.7" cy="40.8" r="0.8" fill="#b6b6b6"/>
<circle cx="324.4" cy="45.9" r="0.6" fill="#e8e8e8"/>
<circle cx="355.3" cy="58.4" r="0.7" fill="#9a9a9a"/>
<circle cx="314.4" cy="64.4" r="0.6" fill="#b6b6b6"/>
<circle cx="339.0" cy="42.9" r="0.9" fill="#9a9a9a"/>
<circle cx="328.5" cy="41.8" r="0.5" fill="#e4e4e4"/>
<circle cx="348.9" cy="50.0" r="0.7" fill="#e4e4e4"/>
<circle cx="353.5" cy="73.7" r="0.7" fill="#b6b6b6"/>
<circle cx="349.8" cy="62.1" r="0.6" fill="#a8a8a8"/>
<circle cx="343.6" cy="42.2" r="0.4" fill="#a8a8a8"/>
<circle cx="338.6" cy="47.8" r="0.7" fill="#e8e8e8"/>
<circle cx="313.6" cy="51.2" r="0.5" fill="#a8a8a8"/>
<circle cx="353.1" cy="40.6" r="0.4" fill="#a8a8a8"/>
<circle cx="319.6" cy="51.9" r="0.7" fill="#e8e8e8"/>
<circle cx="310.6" cy="65.2" r="0.5" fill="#9a9a9a"/>
<circle cx="333.2" cy="54.3" r="0.7" fill="#a8a8a8"/>
<circle cx="342.0" cy="69.7" r="0.8" fill="#e4e4e4"/>
<circle cx="342.3" cy="52.7" r="0.8" fill="#b6b6b6"/>
<circle cx="337.1" cy="32.9" r="0.7" fill="#e8e8e8"/>
<circle cx="343.2" cy="66.7" r="0.9" fill="#a8a8a8"/>
<circle cx="344.4" cy="56.0" r="0.8" fill="#9a9a9a"/>
<circle cx="333.1" cy="70.3" r="0.4" fill="#a8a8a8"/>
<circle cx="356.5" cy="70.5" r="0.7" fill="#9a9a9a"/>
<circle cx="298.4" cy="63.4" r="0.8" fill="#b6b6b6"/>
<circle cx="350.7" cy="41.3" r="0.5" fill="#a8a8a8"/>
<circle cx="337.5" cy="51.3" r="0.4" fill="#e4e4e4"/>
<circle cx="355.0" cy="43.6" r="0.7" fill="#9a9a9a"/>
<circle cx="337.1" cy="34.4" r="0.6" fill="#a8a8a8"/>
<circle cx="337.7" cy="61.5" r="0.7" fill="#e8e8e8"/>
<circle cx="312.0" cy="60.6" r="0.7" fill="#a8a8a8"/>
<circle cx="313.5" cy="53.7" r="0.6" fill="#e4e4e4"/>
<circle cx="330.8" cy="44.7" r="0.9" fill="#9a9a9a"/>
<circle cx="348.9" cy="73.6" r="0.9" fill="#e4e4e4"/>
<circle cx="300.1" cy="63.9" r="0.9" fill="#b6b6b6"/>
<circle cx="302.9" cy="67.1" r="0.5" fill="#e8e8e8"/>
<circle cx="327.4" cy="69.6" r="0.4" fill="#e4e4e4"/>
<circle cx="315.2" cy="68.0" r="0.6" fill="#9a9a9a"/>
<circle cx="316.7" cy="48.5" r="0.8" fill="#a8a8a8"/>
<circle cx="354.4" cy="43.8" r="0.4" fill="#b6b6b6"/>
<circle cx="320.1" cy="69.3" r="0.6" fill="#9a9a9a"/>
<circle cx="349.9" cy="43.6" r="0.5" fill="#a8a8a8"/>
<circle cx="311.8" cy="53.5" r="0.8" fill="#a8a8a8"/>
<circle cx="346.6" cy="49.8" r="0.8" fill="#9a9a9a"/>
<circle cx="336.3" cy="71.2" r="0.7" fill="#e8e8e8"/>
<circle cx="342.2" cy="33.2" r="0.6" fill="#e4e4e4"/>
<circle cx="344.4" cy="59.4" r="0.6" fill="#b6b6b6"/>
<circle cx="355.1" cy="55.2" r="0.6" fill="#a8a8a8"/>
<circle cx="311.4" cy="59.9" r="0.6" fill="#b6b6b6"/>
<circle cx="338.8" cy="36.3" r="0.4" fill="#a8a8a8"/>
<circle cx="327.5" cy="66.7" r="0.5" fill="#e8e8e8"/>
<circle cx="332.2" cy="70.0" r="0.6" fill="#e4e4e4"/>
<circle cx="344.0" cy="40.2" r="0.6" fill="#b6b6b6"/>
<circle cx="327.7" cy="58.7" r="0.4" fill="#a8a8a8"/>
<circle cx="354.1" cy="47.9" r="0.6" fill="#e4e4e4"/>
<circle cx="314.9" cy="66.8" r="0.5" fill="#9a9a9a"/>
<circle cx="322.5" cy="64.6" r="0.9" fill="#e4e4e4"/>
<circle cx="356.3" cy="71.8" r="0.8" fill="#e8e8e8"/>
<circle cx="329.0" cy="61.0" r="0.4" fill="#e4e4e4"/>
<circle cx="302.4" cy="56.1" r="0.7" fill="#9a9a9a"/>
<circle cx="310.9" cy="59.0" r="0.4" fill="#9a9a9a"/>
<circle cx="350.2" cy="41.7" r="0.5" fill="#e8e8e8"/>
<circle cx="341.2" cy="44.5" r="0.5" fill="#9a9a9a"/>
<circle cx="353.3" cy="59.5" r="0.5" fill="#9a9a9a"/>
<circle cx="338.7" cy="71.7" r="0.6" fill="#a8a8a8"/>
<circle cx="340.6" cy="62.6" r="0.7" fill="#b6b6b6"/>
<circle cx="307.3" cy="66.1" r="0.4" fill="#e8e8e8"/>
<circle cx="345.3" cy="39.5" r="0.5" fill="#e4e4e4"/>
<circle cx="345.0" cy="44.0" r="0.6" fill="#e8e8e8"/>
<circle cx="321.9" cy="60.3" r="0.5" fill="#e8e8e8"/>
<circle cx="320.4" cy="70.5" r="0.8" fill="#b6b6b6"/>
<circle cx="356.7" cy="63.8" r="0.6" fill="#9a9a9a"/>
<circle cx="342.6" cy="67.9" r="0.6" fill="#b6b6b6"/>
<circle cx="353.3" cy="55.7" r="0.6" fill="#a8a8a8"/>
<circle cx="345.5" cy="44.6" r="0.4" fill="#e4e4e4"/>
<circle cx="341.3" cy="39.6" r="0.9" fill="#e8e8e8"/>
<circle cx="321.5" cy="66.7" r="0.4" fill="#e4e4e4"/>
<circle cx="344.1" cy="70.5" r="0.6" fill="#b6b6b6"/>
<circle cx="296.9" cy="63.8" r="0.9" fill="#b6b6b6"/>
<circle cx="313.9" cy="62.7" r="0.9" fill="#e8e8e8"/>
<circle cx="336.5" cy="72.5" r="0.8" fill="#9a9a9a"/>
<circle cx="301.2" cy="62.5" r="0.9" fill="#e4e4e4"/>
<circle cx="322.8" cy="52.7" r="0.5" fill="#e4e4e4"/>
<circle cx="347.8" cy="63.5" r="0.7" fill="#a8a8a8"/>
<circle cx="318.2" cy="65.4" r="0.7" fill="#9a9a9a"/>
<circle cx="321.3" cy="59.6" r="0.7" fill="#e4e4e4"/>
<circle cx="341.6" cy="50.7" r="0.5" fill="#a8a8a8"/>
<circle cx="324.9" cy="70.2" r="0.8" fill="#a8a8a8"/>
<circle cx="350.7" cy="60.2" r="0.8" fill="#9a9a9a"/>
<circle cx="311.4" cy="50.3" r="0.5" fill="#a8a8a8"/>
<circle cx="304.3" cy="69.9" r="0.5" fill="#e8e8e8"/>
<circle cx="310.5" cy="54.2" r="0.7" fill="#9a9a9a"/>
<circle cx="325.8" cy="67.0" r="0.9" fill="#e4e4e4"/>
<circle cx="356.3" cy="47.4" r="0.6" fill="#a8a8a8"/>
<circle cx="311.4" cy="65.2" r="0.5" fill="#9a9a9a"/>
<circle cx="333.9" cy="58.3" r="0.4" fill="#a8a8a8"/>
<circle cx="343.1" cy="71.2" r="0.8" fill="#9a9a9a"/>
<circle cx="321.4" cy="47.4" r="0.6" fill="#e8e8e8"/>
<circle cx="307.6" cy="66.0" r="0.6" fill="#e8e8e8"/>
<circle cx="321.3" cy="66.0" r="0.5" fill="#e8e8e8"/>
<circle cx="329.8" cy="59.7" r="0.7" fill="#e4e4e4"/>
<circle cx="314.9" cy="55.9" r="0.6" fill="#b6b6b6"/>
<circle cx="347.7" cy="59.4" r="0.8" fill="#e4e4e4"/>
<circle cx="354.4" cy="49.6" r="0.6" fill="#9a9a9a"/>
<circle cx="353.2" cy="51.3" r="0.5" fill="#a8a8a8"/>
<circle cx="348.0" cy="48.5" r="0.7" fill="#e8e8e8"/>
<circle cx="318.8" cy="53.2" r="0.6" fill="#a8a8a8"/>
<circle cx="344.5" cy="65.9" r="0.6" fill="#a8a8a8"/>
<circle cx="355.2" cy="44.8" r="0.9" fill="#e8e8e8"/>
<circle cx="320.0" cy="70.8" r="0.7" fill="#e8e8e8"/>
<circle cx="353.7" cy="59.2" r="0.7" fill="#a8a8a8"/>
<circle cx="335.2" cy="39.6" r="0.5" fill="#e4e4e4"/>
<circle cx="328.7" cy="47.9" r="0.5" fill="#9a9a9a"/>
<circle cx="359.0" cy="66.9" r="0.4" fill="#a8a8a8"/>
<circle cx="331.7" cy="64.3" r="0.7" fill="#9a9a9a"/>
<circle cx="324.5" cy="68.4" r="0.7" fill="#b6b6b6"/>
<circle cx="320.1" cy="47.2" r="0.6" fill="#e8e8e8"/>
<circle cx="345.2" cy="65.3" r="0.8" fill="#e4e4e4"/>
<circle cx="348.3" cy="48.6" r="0.5" fill="#9a9a9a"/>
<circle cx="323.6" cy="53.4" r="0.4" fill="#9a9a9a"/>
<circle cx="315.0" cy="62.7" r="0.4" fill="#9a9a9a"/>
<circle cx="327.8" cy="47.6" r="0.4" fill="#a8a8a8"/>
<circle cx="298.4" cy="58.0" r="0.5" fill="#9a9a9a"/>
<circle cx="358.1" cy="71.3" r="0.7" fill="#a8a8a8"/>
<circle cx="342.3" cy="40.7" r="0.7" fill="#b6b6b6"/>
<circle cx="335.1" cy="70.8" r="0.5" fill="#e4e4e4"/>
<circle cx="327.6" cy="71.5" r="0.7" fill="#a8a8a8"/>
<circle cx="335.3" cy="41.4" r="0.4" fill="#b6b6b6"/>
<circle cx="356.7" cy="60.9" r="0.5" fill="#e4e4e4"/>
<circle cx="346.6" cy="36.1" r="0.4" fill="#e8e8e8"/>
<circle cx="351.5" cy="73.5" r="0.7" fill="#e4e4e4"/>
<circle cx="332.9" cy="69.8" r="0.5" fill="#9a9a9a"/>
<circle cx="329.9" cy="68.7" r="0.5" fill="#b6b6b6"/>
<circle cx="318.1" cy="64.6" r="0.5" fill="#e4e4e4"/>
<circle cx="313.9" cy="53.7" r="0.7" fill="#b6b6b6"/>
<circle cx="338.5" cy="44.8" r="0.8" fill="#9a9a9a"/>
<circle cx="335.9" cy="49.4" r="0.8" fill="#b6b6b6"/>
<circle cx="309.0" cy="56.7" r="0.5" fill="#e8e8e8"/>
<circle cx="318.5" cy="67.5" r="0.5" fill="#a8a8a8"/>
<circle cx="336.8" cy="69.3" r="0.6" fill="#b6b6b6"/>
<circle cx="337.2" cy="55.7" r="0.7" fill="#b6b6b6"/>
<circle cx="332.8" cy="57.5" r="0.8" fill="#e8e8e8"/>
<circle cx="297.9" cy="65.3" r="0.7" fill="#9a9a9a"/>
<circle cx="338.0" cy="39.7" r="0.5" fill="#e4e4e4"/>
<circle cx="334.7" cy="53.3" r="0.8" fill="#e4e4e4"/>
<circle cx="353.6" cy="65.5" r="0.4" fill="#e8e8e8"/>
<circle cx="350.6" cy="63.8" r="0.4" fill="#e4e4e4"/>
<circle cx="337.9" cy="38.7" r="0.5" fill="#9a9a9a"/>
<circle cx="337.1" cy="36.4" r="0.8" fill="#b6b6b6"/>
<circle cx="311.8" cy="55.4" r="0.7" fill="#e4e4e4"/>
<circle cx="355.5" cy="73.8" r="0.7" fill="#b6b6b6"/>
<circle cx="343.8" cy="72.6" r="0.5" fill="#b6b6b6"/>
<circle cx="320.0" cy="57.5" r="0.9" fill="#e4e4e4"/>
<circle cx="336.3" cy="61.5" r="0.6" fill="#e8e8e8"/>
<circle cx="350.3" cy="61.7" r="0.6" fill="#9a9a9a"/>
<circle cx="342.5" cy="56.1" r="0.8" fill="#b6b6b6"/>
<circle cx="320.2" cy="56.8" r="0.9" fill="#e8e8e8"/>
<circle cx="340.4" cy="58.9" r="0.8" fill="#9a9a9a"/>
<polyline points="357,40 362,52 366,64 369,74" fill="none" stroke="#6a6a6a" stroke-width="1.6" stroke-dasharray="2,1.5"/>
<polygon points="352,42.3 364.1,38 377.6,73.4 364.8,78.1" fill="none" stroke="#e00000" stroke-width="1.8"/>
<polygon points="261.5,31.5 255.4,47.7 261.5,44.3 266.9,47.7" fill="#000"/>
<text x="261.5" y="27.3" font-family='"Liberation Serif", serif' font-size="5.5" text-anchor="middle" fill="#333">N</text>
<g transform="translate(422,51.5) rotate(111)">
<g transform="rotate(0)"><polygon points="0,-23 2.6,-8 0,0" fill="#000"/><polygon points="0,-23 -2.6,-8 0,0" fill="#fff" stroke="#000" stroke-width="0.5"/></g>
<g transform="rotate(90)"><polygon points="0,-23 2.6,-8 0,0" fill="#000"/><polygon points="0,-23 -2.6,-8 0,0" fill="#fff" stroke="#000" stroke-width="0.5"/></g>
<g transform="rotate(180)"><polygon points="0,-23 2.6,-8 0,0" fill="#000"/><polygon points="0,-23 -2.6,-8 0,0" fill="#fff" stroke="#000" stroke-width="0.5"/></g>
<g transform="rotate(270)"><polygon points="0,-23 2.6,-8 0,0" fill="#000"/><polygon points="0,-23 -2.6,-8 0,0" fill="#fff" stroke="#000" stroke-width="0.5"/></g>
<circle r="9" fill="#fff" stroke="#000" stroke-width="1.1"/>
<path d="M0,0 L0,-9 A9,9 0 0 1 9,0 Z" fill="#000"/>
<path d="M0,0 L0,9 A9,9 0 0 1 -9,0 Z" fill="#000"/>
<circle r="9" fill="none" stroke="#000" stroke-width="1.1"/>
</g>
<text x="450" y="62.3" font-family='"Liberation Serif", serif' font-size="11" text-anchor="middle" dominant-baseline="middle" transform="rotate(111 450 62.3)" fill="#000">N</text>
<text x="432.3" y="25.8" font-family='"Liberation Serif", serif' font-size="11" text-anchor="middle" dominant-baseline="middle" transform="rotate(111 432.3 25.8)" fill="#000">W</text>
<text x="394.7" y="41.8" font-family='"Liberation Serif", serif' font-size="11" text-anchor="middle" dominant-baseline="middle" transform="rotate(111 394.7 41.8)" fill="#000">S</text>
<text x="413" y="77.1" font-family='"Liberation Serif", serif' font-size="11" text-anchor="middle" dominant-baseline="middle" transform="rotate(111 413 77.1)" fill="#000">E</text>
<rect x="470" y="52" width="371.2" height="9.4" fill="none" stroke="#000" stroke-width="1"/>
<rect x="470" y="52" width="23.2" height="9.4" fill="#000"/>
<rect x="516.4" y="52" width="23.2" height="9.4" fill="#000"/>
<rect x="562.8" y="52" width="92.8" height="9.4" fill="#000"/>
<rect x="748.4" y="52" width="92.8" height="9.4" fill="#000"/>
<text x="470.5" y="44.3" font-family='"Liberation Sans", sans-serif' font-size="18" text-anchor="middle" fill="#000">0</text>
<text x="516.4" y="44.3" font-family='"Liberation Sans", sans-serif' font-size="18" text-anchor="middle" fill="#000">100</text>
<text x="561" y="44.3" font-family='"Liberation Sans", sans-serif' font-size="18" text-anchor="middle" fill="#000">200</text>
<text x="655.6" y="44.3" font-family='"Liberation Sans", sans-serif' font-size="18" text-anchor="middle" fill="#000">400</text>
<text x="748.4" y="44.3" font-family='"Liberation Sans", sans-serif' font-size="18" text-anchor="middle" fill="#000">600</text>
<text x="840" y="44.3" font-family='"Liberation Sans", sans-serif' font-size="18" text-anchor="middle" fill="#000">800</text>
<text x="845.5" y="60" font-family='"Liberation Sans", sans-serif' font-size="18" fill="#000">Metres</text>
<text x="0.3" y="42.6" font-family='"Liberation Sans", sans-serif' font-size="35" fill="#000">A</text>
<text x="39.2" y="627.8" font-family='"Liberation Sans", sans-serif' font-size="10.5" text-anchor="end" fill="#333">-20</text>
<line x1="47" y1="624.0" x2="51" y2="624.0" stroke="#bdbdbd" stroke-width="1"/>
<text x="39.2" y="596.8" font-family='"Liberation Sans", sans-serif' font-size="10.5" text-anchor="end" fill="#333">-10</text>
<line x1="47" y1="593.0" x2="51" y2="593.0" stroke="#bdbdbd" stroke-width="1"/>
<text x="39.2" y="565.8" font-family='"Liberation Sans", sans-serif' font-size="10.5" text-anchor="end" fill="#333">0</text>
<line x1="47" y1="562.0" x2="51" y2="562.0" stroke="#bdbdbd" stroke-width="1"/>
<text x="39.2" y="534.8" font-family='"Liberation Sans", sans-serif' font-size="10.5" text-anchor="end" fill="#333">10</text>
<line x1="47" y1="531.0" x2="51" y2="531.0" stroke="#bdbdbd" stroke-width="1"/>
<text x="39.2" y="503.8" font-family='"Liberation Sans", sans-serif' font-size="10.5" text-anchor="end" fill="#333">20</text>
<line x1="47" y1="500.0" x2="51" y2="500.0" stroke="#bdbdbd" stroke-width="1"/>
<text x="39.2" y="472.8" font-family='"Liberation Sans", sans-serif' font-size="10.5" text-anchor="end" fill="#333">30</text>
<line x1="47" y1="469.0" x2="51" y2="469.0" stroke="#bdbdbd" stroke-width="1"/>
<text x="39.2" y="441.8" font-family='"Liberation Sans", sans-serif' font-size="10.5" text-anchor="end" fill="#333">40</text>
<line x1="47" y1="438.0" x2="51" y2="438.0" stroke="#bdbdbd" stroke-width="1"/>
<text x="39.2" y="410.8" font-family='"Liberation Sans", sans-serif' font-size="10.5" text-anchor="end" fill="#333">50</text>
<line x1="47" y1="407.0" x2="51" y2="407.0" stroke="#bdbdbd" stroke-width="1"/>
<text x="39.2" y="379.8" font-family='"Liberation Sans", sans-serif' font-size="10.5" text-anchor="end" fill="#333">60</text>
<line x1="47" y1="376.0" x2="51" y2="376.0" stroke="#bdbdbd" stroke-width="1"/>
<line x1="51.0" y1="624" x2="51.0" y2="628" stroke="#bdbdbd" stroke-width="1"/>
<line x1="62.46" y1="624" x2="62.46" y2="628" stroke="#bdbdbd" stroke-width="1"/>
<line x1="73.92" y1="624" x2="73.92" y2="628" stroke="#bdbdbd" stroke-width="1"/>
<line x1="85.38" y1="624" x2="85.38" y2="628" stroke="#bdbdbd" stroke-width="1"/>
<line x1="96.84" y1="624" x2="96.84" y2="628" stroke="#bdbdbd" stroke-width="1"/>
<line x1="108.30000000000001" y1="624" x2="108.30000000000001" y2="628" stroke="#bdbdbd" stroke-width="1"/>
<line x1="119.76" y1="624" x2="119.76" y2="628" stroke="#bdbdbd" stroke-width="1"/>
<line x1="131.22" y1="624" x2="131.22" y2="628" stroke="#bdbdbd" stroke-width="1"/>
<line x1="142.68" y1="624" x2="142.68" y2="628" stroke="#bdbdbd" stroke-width="1"/>
<line x1="154.14000000000001" y1="624" x2="154.14000000000001" y2="628" stroke="#bdbdbd" stroke-width="1"/>
<line x1="165.60000000000002" y1="624" x2="165.60000000000002" y2="628" stroke="#bdbdbd" stroke-width="1"/>
<line x1="177.06" y1="624" x2="177.06" y2="628" stroke="#bdbdbd" stroke-width="1"/>
<line x1="188.52" y1="624" x2="188.52" y2="628" stroke="#bdbdbd" stroke-width="1"/>
<line x1="199.98000000000002" y1="624" x2="199.98000000000002" y2="628" stroke="#bdbdbd" stroke-width="1"/>
<line x1="211.44" y1="624" x2="211.44" y2="628" stroke="#bdbdbd" stroke-width="1"/>
<line x1="222.9" y1="624" x2="222.9" y2="628" stroke="#bdbdbd" stroke-width="1"/>
<line x1="234.36" y1="624" x2="234.36" y2="628" stroke="#bdbdbd" stroke-width="1"/>
<line x1="245.82000000000002" y1="624" x2="245.82000000000002" y2="628" stroke="#bdbdbd" stroke-width="1"/>
<line x1="257.28000000000003" y1="624" x2="257.28000000000003" y2="628" stroke="#bdbdbd" stroke-width="1"/>
<line x1="268.74" y1="624" x2="268.74" y2="628" stroke="#bdbdbd" stroke-width="1"/>
<line x1="280.20000000000005" y1="624" x2="280.20000000000005" y2="628" stroke="#bdbdbd" stroke-width="1"/>
<line x1="291.66" y1="624" x2="291.66" y2="628" stroke="#bdbdbd" stroke-width="1"/>
<line x1="303.12" y1="624" x2="303.12" y2="628" stroke="#bdbdbd" stroke-width="1"/>
<line x1="314.58000000000004" y1="624" x2="314.58000000000004" y2="628" stroke="#bdbdbd" stroke-width="1"/>
<line x1="326.04" y1="624" x2="326.04" y2="628" stroke="#bdbdbd" stroke-width="1"/>
<line x1="337.5" y1="624" x2="337.5" y2="628" stroke="#bdbdbd" stroke-width="1"/>
<line x1="348.96000000000004" y1="624" x2="348.96000000000004" y2="628" stroke="#bdbdbd" stroke-width="1"/>
<line x1="360.42" y1="624" x2="360.42" y2="628" stroke="#bdbdbd" stroke-width="1"/>
<line x1="371.88" y1="624" x2="371.88" y2="628" stroke="#bdbdbd" stroke-width="1"/>
<line x1="383.34000000000003" y1="624" x2="383.34000000000003" y2="628" stroke="#bdbdbd" stroke-width="1"/>
<line x1="394.8" y1="624" x2="394.8" y2="628" stroke="#bdbdbd" stroke-width="1"/>
<line x1="406.26000000000005" y1="624" x2="406.26000000000005" y2="628" stroke="#bdbdbd" stroke-width="1"/>
<line x1="417.72" y1="624" x2="417.72" y2="628" stroke="#bdbdbd" stroke-width="1"/>
<line x1="429.18" y1="624" x2="429.18" y2="628" stroke="#bdbdbd" stroke-width="1"/>
<line x1="440.64000000000004" y1="624" x2="440.64000000000004" y2="628" stroke="#bdbdbd" stroke-width="1"/>
<line x1="452.1" y1="624" x2="452.1" y2="628" stroke="#bdbdbd" stroke-width="1"/>
<line x1="47" y1="624" x2="453" y2="624" stroke="#bdbdbd" stroke-width="1"/>
<line x1="51" y1="562" x2="452" y2="562" stroke="#8040c0" stroke-width="1.6"/>
<polyline points="51.0,556.4 62.5,529.5 73.9,521.1 85.4,513.3 96.8,526.0 108.3,526.7 119.8,511.5 131.2,504.0 142.7,497.8 154.1,542.8 165.6,517.4 177.1,504.0 188.5,522.3 200.0,531.9 211.4,544.0 222.9,556.1 234.4,510.9 245.8,574.4 257.3,482.9 268.7,579.4 280.2,602.3 291.7,535.6 303.1,511.2 314.6,523.6 326.0,491.3 337.5,514.9 349.0,490.4 360.4,504.0 371.9,554.6 383.3,501.2 394.8,497.5 406.3,500.9 417.7,528.5 429.2,446.1 440.6,436.1 452.1,415.1" fill="none" stroke="#ee7d31" stroke-width="1.5" stroke-linejoin="round"/>
<polyline points="51.0,550.2 62.5,514.9 73.9,512.1 85.4,511.5 96.8,526.7 108.3,535.6 119.8,514.9 131.2,513.6 142.7,491.0 154.1,546.5 165.6,521.1 177.1,501.6 188.5,527.0 200.0,526.0 211.4,544.0 222.9,558.6 234.4,492.9 245.8,571.9 257.3,483.9 268.7,578.1 280.2,576.9 291.7,534.4 303.1,509.9 314.6,540.3 326.0,487.0 337.5,511.2 349.0,484.8 360.4,499.4 371.9,551.1 383.3,496.0 394.8,491.0 406.3,494.4 417.7,523.9 429.2,441.4 440.6,431.2 452.1,410.1" fill="none" stroke="#27b1ee" stroke-width="1.5" stroke-linejoin="round"/>
<polyline points="51.0,548.0 62.5,516.1 73.9,497.5 85.4,512.7 96.8,514.9 108.3,526.4 119.8,501.6 131.2,480.8 142.7,507.8 154.1,534.4 165.6,528.2 177.1,500.3 188.5,540.9 200.0,505.3 211.4,508.4 222.9,531.9 234.4,480.8 245.8,550.2 257.3,458.8 268.7,573.2 280.2,540.3 291.7,527.0 303.1,494.4 314.6,550.2 326.0,561.8 337.5,531.9 349.0,474.3 360.4,476.1 371.9,536.6 383.3,466.8 394.8,478.3 406.3,474.3 417.7,490.4 429.2,408.5 440.6,398.6 452.1,397.4" fill="none" stroke="#27b05a" stroke-width="1.5" stroke-linejoin="round"/>
<polyline points="51.0,544.3 62.5,512.7 73.9,489.1 85.4,496.0 96.8,509.9 108.3,518.3 119.8,512.7 131.2,499.7 142.7,519.8 154.1,531.9 165.6,502.8 177.1,496.6 188.5,521.1 200.0,501.6 211.4,525.4 222.9,529.5 234.4,415.1 245.8,529.5 257.3,463.7 268.7,584.3 280.2,596.1 291.7,519.8 303.1,495.4 314.6,529.5 326.0,472.4 337.5,491.9 349.0,460.6 360.4,475.5 371.9,533.2 383.3,475.5 394.8,467.8 406.3,467.8 417.7,484.8 429.2,401.4 440.6,396.1 452.1,381.3" fill="none" stroke="#ee22ee" stroke-width="1.5" stroke-linejoin="round"/>
<polyline points="51,376 51,624 124.5,624 124.5,376" fill="none" stroke="#f23232" stroke-width="2"/>
<polyline points="126.5,376 126.5,624 228,624 228,376" fill="none" stroke="#1a8a1a" stroke-width="2"/>
<polyline points="229.5,376 229.5,624 331,624 331,376" fill="none" stroke="#2222ee" stroke-width="2"/>
<polyline points="333,376 333,624 452.5,624 452.5,376" fill="none" stroke="#e8dc20" stroke-width="2"/>
<text x="59.3" y="618.3" font-family='"Liberation Sans", sans-serif' font-size="11" text-anchor="middle" fill="#262626">2</text>
<text x="84.3" y="618.3" font-family='"Liberation Sans", sans-serif' font-size="11" text-anchor="middle" fill="#262626">4</text>
<text x="109.5" y="618.3" font-family='"Liberation Sans", sans-serif' font-size="11" text-anchor="middle" fill="#262626">6</text>
<text x="131.2" y="618.3" font-family='"Liberation Sans", sans-serif' font-size="11" text-anchor="middle" fill="#262626">8</text>
<text x="154.1" y="618.3" font-family='"Liberation Sans", sans-serif' font-size="11" text-anchor="middle" fill="#262626">10</text>
<text x="177.1" y="618.3" font-family='"Liberation Sans", sans-serif' font-size="11" text-anchor="middle" fill="#262626">12</text>
<text x="200.0" y="618.3" font-family='"Liberation Sans", sans-serif' font-size="11" text-anchor="middle" fill="#262626">14</text>
<text x="222.9" y="618.3" font-family='"Liberation Sans", sans-serif' font-size="11" text-anchor="middle" fill="#262626">16</text>
<text x="245.8" y="618.3" font-family='"Liberation Sans", sans-serif' font-size="11" text-anchor="middle" fill="#262626">18</text>
<text x="268.7" y="618.3" font-family='"Liberation Sans", sans-serif' font-size="11" text-anchor="middle" fill="#262626">20</text>
<text x="291.7" y="618.3" font-family='"Liberation Sans", sans-serif' font-size="11" text-anchor="middle" fill="#262626">22</text>
<text x="314.6" y="618.3" font-family='"Liberation Sans", sans-serif' font-size="11" text-anchor="middle" fill="#262626">24</text>
<text x="337.5" y="618.3" font-family='"Liberation Sans", sans-serif' font-size="11" text-anchor="middle" fill="#262626">26</text>
<text x="360.4" y="618.3" font-family='"Liberation Sans", sans-serif' font-size="11" text-anchor="middle" fill="#262626">28</text>
<text x="383.3" y="618.3" font-family='"Liberation Sans", sans-serif' font-size="11" text-anchor="middle" fill="#262626">30</text>
<text x="406.3" y="618.3" font-family='"Liberation Sans", sans-serif' font-size="11" text-anchor="middle" fill="#262626">32</text>
<text x="429.2" y="618.3" font-family='"Liberation Sans", sans-serif' font-size="11" text-anchor="middle" fill="#262626">34</text>
<text x="452.1" y="618.3" font-family='"Liberation Sans", sans-serif' font-size="11" text-anchor="middle" fill="#262626">36</text>
<text x="51.0" y="638" font-family='"Liberation Sans", sans-serif' font-size="11" text-anchor="middle" fill="#262626">1</text>
<text x="73.9" y="638" font-family='"Liberation Sans", sans-serif' font-size="11" text-anchor="middle" fill="#262626">3</text>
<text x="96.8" y="638" font-family='"Liberation Sans", sans-serif' font-size="11" text-anchor="middle" fill="#262626">5</text>
<text x="119.8" y="638" font-family='"Liberation Sans", sans-serif' font-size="11" text-anchor="middle" fill="#262626">7</text>
<text x="142.7" y="638" font-family='"Liberation Sans", sans-serif' font-size="11" text-anchor="middle" fill="#262626">9</text>
<text x="165.6" y="638" font-family='"Liberation Sans", sans-serif' font-size="11" text-anchor="middle" fill="#262626">11</text>
<text x="188.5" y="638" font-family='"Liberation Sans", sans-serif' font-size="11" text-anchor="middle" fill="#262626">13</text>
<text x="211.4" y="638" font-family='"Liberation Sans", sans-serif' font-size="11" text-anchor="middle" fill="#262626">15</text>
<text x="234.4" y="638" font-family='"Liberation Sans", sans-serif' font-size="11" text-anchor="middle" fill="#262626">17</text>
<text x="257.3" y="638" font-family='"Liberation Sans", sans-serif' font-size="11" text-anchor="middle" fill="#262626">19</text>
<text x="280.2" y="638" font-family='"Liberation Sans", sans-serif' font-size="11" text-anchor="middle" fill="#262626">21</text>
<text x="303.1" y="638" font-family='"Liberation Sans", sans-serif' font-size="11" text-anchor="middle" fill="#262626">23</text>
<text x="326.0" y="638" font-family='"Liberation Sans", sans-serif' font-size="11" text-anchor="middle" fill="#262626">25</text>
<text x="349.0" y="638" font-family='"Liberation Sans", sans-serif' font-size="11" text-anchor="middle" fill="#262626">27</text>
<text x="371.9" y="638" font-family='"Liberation Sans", sans-serif' font-size="11" text-anchor="middle" fill="#262626">29</text>
<text x="394.8" y="638" font-family='"Liberation Sans", sans-serif' font-size="11" text-anchor="middle" fill="#262626">31</text>
<text x="417.7" y="638" font-family='"Liberation Sans", sans-serif' font-size="11" text-anchor="middle" fill="#262626">33</text>
<text x="440.6" y="638" font-family='"Liberation Sans", sans-serif' font-size="11" text-anchor="middle" fill="#262626">35</text>
<text x="47" y="652" font-family='"Liberation Sans", sans-serif' font-size="11.5" fill="#262626" textLength="21" lengthAdjust="spacingAndGlyphs">S<tspan font-size="8.5">outh</tspan></text>
<text x="437" y="651.5" font-family='"Liberation Sans", sans-serif' font-size="11.5" fill="#262626" textLength="22" lengthAdjust="spacingAndGlyphs">N<tspan font-size="8.5">orth</tspan></text>
<text x="209.5" y="654" font-family='"Liberation Sans", sans-serif' font-size="11.5" font-weight="bold" fill="#000" textLength="86" lengthAdjust="spacingAndGlyphs">Transect number</text>
<text x="19.6" y="499.7" font-family='"Liberation Sans", sans-serif' font-size="11" font-weight="bold" text-anchor="middle" fill="#000" transform="rotate(-90 19.6 499.7)" textLength="90" lengthAdjust="spacingAndGlyphs">Displacement (m)</text>
<line x1="58.3" y1="380.4" x2="71.1" y2="380.4" stroke="#8040c0" stroke-width="1.6"/>
<text x="72.5" y="384.4" font-family='"Liberation Sans", sans-serif' font-size="11" fill="#262626">1964</text>
<line x1="58.3" y1="396.9" x2="71.1" y2="396.9" stroke="#ee7d31" stroke-width="1.6"/>
<text x="72.5" y="400.9" font-family='"Liberation Sans", sans-serif' font-size="11" fill="#262626">1978</text>
<line x1="58.3" y1="413.4" x2="71.1" y2="413.4" stroke="#27b1ee" stroke-width="1.6"/>
<text x="72.5" y="417.4" font-family='"Liberation Sans", sans-serif' font-size="11" fill="#262626">1980</text>
<line x1="58.3" y1="429.9" x2="71.1" y2="429.9" stroke="#27b05a" stroke-width="1.6"/>
<text x="72.5" y="433.9" font-family='"Liberation Sans", sans-serif' font-size="11" fill="#262626">2001</text>
<line x1="58.3" y1="446.4" x2="71.1" y2="446.4" stroke="#ee22ee" stroke-width="1.6"/>
<text x="72.5" y="450.4" font-family='"Liberation Sans", sans-serif' font-size="11" fill="#262626">2009</text>
<text x="-0.6" y="399.6" font-family='"Liberation Sans", sans-serif' font-size="35" fill="#000">B</text>
<text x="503.8" y="629.1" font-family='"Liberation Sans", sans-serif' font-size="10.5" text-anchor="end" fill="#333">0</text>
<line x1="511" y1="625.3" x2="515.3" y2="625.3" stroke="#bdbdbd" stroke-width="1"/>
<text x="503.8" y="597.9" font-family='"Liberation Sans", sans-serif' font-size="10.5" text-anchor="end" fill="#333">5</text>
<line x1="511" y1="594.15" x2="515.3" y2="594.15" stroke="#bdbdbd" stroke-width="1"/>
<text x="503.8" y="566.8" font-family='"Liberation Sans", sans-serif' font-size="10.5" text-anchor="end" fill="#333">10</text>
<line x1="511" y1="563.0" x2="515.3" y2="563.0" stroke="#bdbdbd" stroke-width="1"/>
<text x="503.8" y="535.6" font-family='"Liberation Sans", sans-serif' font-size="10.5" text-anchor="end" fill="#333">15</text>
<line x1="511" y1="531.8499999999999" x2="515.3" y2="531.8499999999999" stroke="#bdbdbd" stroke-width="1"/>
<text x="503.8" y="504.5" font-family='"Liberation Sans", sans-serif' font-size="10.5" text-anchor="end" fill="#333">20</text>
<line x1="511" y1="500.69999999999993" x2="515.3" y2="500.69999999999993" stroke="#bdbdbd" stroke-width="1"/>
<text x="503.8" y="473.3" font-family='"Liberation Sans", sans-serif' font-size="10.5" text-anchor="end" fill="#333">25</text>
<line x1="511" y1="469.54999999999995" x2="515.3" y2="469.54999999999995" stroke="#bdbdbd" stroke-width="1"/>
<text x="503.8" y="442.2" font-family='"Liberation Sans", sans-serif' font-size="10.5" text-anchor="end" fill="#333">30</text>
<line x1="511" y1="438.4" x2="515.3" y2="438.4" stroke="#bdbdbd" stroke-width="1"/>
<text x="503.8" y="411.0" font-family='"Liberation Sans", sans-serif' font-size="10.5" text-anchor="end" fill="#333">35</text>
<line x1="511" y1="407.24999999999994" x2="515.3" y2="407.24999999999994" stroke="#bdbdbd" stroke-width="1"/>
<text x="503.8" y="379.9" font-family='"Liberation Sans", sans-serif' font-size="10.5" text-anchor="end" fill="#333">40</text>
<line x1="511" y1="376.0999999999999" x2="515.3" y2="376.0999999999999" stroke="#bdbdbd" stroke-width="1"/>
<line x1="515.3" y1="376" x2="515.3" y2="625.3" stroke="#bdbdbd" stroke-width="1"/>
<line x1="515.3" y1="625.3" x2="919.5" y2="625.3" stroke="#bdbdbd" stroke-width="1"/>
<line x1="515.3" y1="625.3" x2="515.3" y2="629" stroke="#c4c4c4" stroke-width="1"/>
<line x1="524.27" y1="625.3" x2="524.27" y2="629" stroke="#c4c4c4" stroke-width="1"/>
<line x1="533.24" y1="625.3" x2="533.24" y2="629" stroke="#c4c4c4" stroke-width="1"/>
<line x1="542.2099999999999" y1="625.3" x2="542.2099999999999" y2="629" stroke="#c4c4c4" stroke-width="1"/>
<line x1="551.18" y1="625.3" x2="551.18" y2="629" stroke="#c4c4c4" stroke-width="1"/>
<line x1="560.15" y1="625.3" x2="560.15" y2="629" stroke="#c4c4c4" stroke-width="1"/>
<line x1="569.12" y1="625.3" x2="569.12" y2="629" stroke="#c4c4c4" stroke-width="1"/>
<line x1="578.0899999999999" y1="625.3" x2="578.0899999999999" y2="629" stroke="#c4c4c4" stroke-width="1"/>
<line x1="587.06" y1="625.3" x2="587.06" y2="629" stroke="#c4c4c4" stroke-width="1"/>
<line x1="596.03" y1="625.3" x2="596.03" y2="629" stroke="#c4c4c4" stroke-width="1"/>
<line x1="605.0" y1="625.3" x2="605.0" y2="629" stroke="#c4c4c4" stroke-width="1"/>
<line x1="613.9699999999999" y1="625.3" x2="613.9699999999999" y2="629" stroke="#c4c4c4" stroke-width="1"/>
<line x1="622.9399999999999" y1="625.3" x2="622.9399999999999" y2="629" stroke="#c4c4c4" stroke-width="1"/>
<line x1="631.91" y1="625.3" x2="631.91" y2="629" stroke="#c4c4c4" stroke-width="1"/>
<line x1="640.88" y1="625.3" x2="640.88" y2="629" stroke="#c4c4c4" stroke-width="1"/>
<line x1="649.8499999999999" y1="625.3" x2="649.8499999999999" y2="629" stroke="#c4c4c4" stroke-width="1"/>
<line x1="658.8199999999999" y1="625.3" x2="658.8199999999999" y2="629" stroke="#c4c4c4" stroke-width="1"/>
<line x1="667.79" y1="625.3" x2="667.79" y2="629" stroke="#c4c4c4" stroke-width="1"/>
<line x1="676.76" y1="625.3" x2="676.76" y2="629" stroke="#c4c4c4" stroke-width="1"/>
<line x1="685.73" y1="625.3" x2="685.73" y2="629" stroke="#c4c4c4" stroke-width="1"/>
<line x1="694.6999999999999" y1="625.3" x2="694.6999999999999" y2="629" stroke="#c4c4c4" stroke-width="1"/>
<line x1="703.67" y1="625.3" x2="703.67" y2="629" stroke="#c4c4c4" stroke-width="1"/>
<line x1="712.64" y1="625.3" x2="712.64" y2="629" stroke="#c4c4c4" stroke-width="1"/>
<line x1="721.6099999999999" y1="625.3" x2="721.6099999999999" y2="629" stroke="#c4c4c4" stroke-width="1"/>
<line x1="730.5799999999999" y1="625.3" x2="730.5799999999999" y2="629" stroke="#c4c4c4" stroke-width="1"/>
<line x1="739.55" y1="625.3" x2="739.55" y2="629" stroke="#c4c4c4" stroke-width="1"/>
<line x1="748.52" y1="625.3" x2="748.52" y2="629" stroke="#c4c4c4" stroke-width="1"/>
<line x1="757.49" y1="625.3" x2="757.49" y2="629" stroke="#c4c4c4" stroke-width="1"/>
<line x1="766.46" y1="625.3" x2="766.46" y2="629" stroke="#c4c4c4" stroke-width="1"/>
<line x1="775.43" y1="625.3" x2="775.43" y2="629" stroke="#c4c4c4" stroke-width="1"/>
<line x1="784.4" y1="625.3" x2="784.4" y2="629" stroke="#c4c4c4" stroke-width="1"/>
<line x1="793.3699999999999" y1="625.3" x2="793.3699999999999" y2="629" stroke="#c4c4c4" stroke-width="1"/>
<line x1="802.3399999999999" y1="625.3" x2="802.3399999999999" y2="629" stroke="#c4c4c4" stroke-width="1"/>
<line x1="811.31" y1="625.3" x2="811.31" y2="629" stroke="#c4c4c4" stroke-width="1"/>
<line x1="820.28" y1="625.3" x2="820.28" y2="629" stroke="#c4c4c4" stroke-width="1"/>
<line x1="829.25" y1="625.3" x2="829.25" y2="629" stroke="#c4c4c4" stroke-width="1"/>
<line x1="838.22" y1="625.3" x2="838.22" y2="629" stroke="#c4c4c4" stroke-width="1"/>
<line x1="847.19" y1="625.3" x2="847.19" y2="629" stroke="#c4c4c4" stroke-width="1"/>
<line x1="856.16" y1="625.3" x2="856.16" y2="629" stroke="#c4c4c4" stroke-width="1"/>
<line x1="865.13" y1="625.3" x2="865.13" y2="629" stroke="#c4c4c4" stroke-width="1"/>
<line x1="874.0999999999999" y1="625.3" x2="874.0999999999999" y2="629" stroke="#c4c4c4" stroke-width="1"/>
<line x1="883.0699999999999" y1="625.3" x2="883.0699999999999" y2="629" stroke="#c4c4c4" stroke-width="1"/>
<line x1="892.04" y1="625.3" x2="892.04" y2="629" stroke="#c4c4c4" stroke-width="1"/>
<line x1="901.01" y1="625.3" x2="901.01" y2="629" stroke="#c4c4c4" stroke-width="1"/>
<line x1="909.98" y1="625.3" x2="909.98" y2="629" stroke="#c4c4c4" stroke-width="1"/>
<line x1="918.95" y1="625.3" x2="918.95" y2="629" stroke="#c4c4c4" stroke-width="1"/>
<line x1="640.88" y1="622.3" x2="640.88" y2="628.8" stroke="#222" stroke-width="1.1"/>
<line x1="658.8199999999999" y1="622.3" x2="658.8199999999999" y2="628.8" stroke="#222" stroke-width="1.1"/>
<line x1="847.19" y1="622.3" x2="847.19" y2="628.8" stroke="#222" stroke-width="1.1"/>
<line x1="918.95" y1="622.3" x2="918.95" y2="628.8" stroke="#222" stroke-width="1.1"/>
<text x="515.6" y="640.6" font-family='"Liberation Sans", sans-serif' font-size="11.6" text-anchor="middle" fill="#262626">1964</text>
<text x="641.2" y="620.3" font-family='"Liberation Sans", sans-serif' font-size="11.6" text-anchor="middle" fill="#262626">1978</text>
<text x="659.1" y="640.6" font-family='"Liberation Sans", sans-serif' font-size="11.6" text-anchor="middle" fill="#262626">1980</text>
<text x="847.5" y="620.3" font-family='"Liberation Sans", sans-serif' font-size="11.6" text-anchor="middle" fill="#262626">2001</text>
<text x="919.2" y="640.6" font-family='"Liberation Sans", sans-serif' font-size="11.6" text-anchor="middle" fill="#262626">2009</text>
<text x="720" y="655" font-family='"Liberation Sans", sans-serif' font-size="11" font-weight="bold" text-anchor="middle" fill="#000">Year</text>
<text x="479.2" y="499.7" font-family='"Liberation Sans", sans-serif' font-size="11" font-weight="bold" text-anchor="middle" fill="#000" transform="rotate(-90 479.2 499.7)" textLength="90" lengthAdjust="spacingAndGlyphs">Displacement (m)</text>
<path d="M515.3,625.3 C557.2,595.0 599.0,549.5 640.9,534.3 C646.9,532.2 652.8,530.5 658.8,529.4 C721.6,517.5 784.4,516.3 847.2,506.6 C871.1,502.9 895.0,497.3 919.0,492.6" fill="none" stroke="#a89a78" stroke-width="1.6" stroke-dasharray="6,3,1.5,3"/>
<polyline points="515.3,625.3 640.9,554.9 658.8,549.9 847.2,536.2 919.0,525.6" fill="none" stroke="#f03a3a" stroke-width="1.6"/>
<polyline points="515.3,625.3 640.9,550.5 658.8,552.4 847.2,532.5 919.0,530.0" fill="none" stroke="#27a95a" stroke-width="1.6"/>
<polyline points="515.3,625.3 640.9,570.5 658.8,562.4 847.2,554.3 919.0,524.4" fill="none" stroke="#2a7bc6" stroke-width="1.6"/>
<polyline points="515.3,625.3 640.9,480.1 658.8,470.2 847.2,430.9 919.0,416.0" fill="none" stroke="#e8e020" stroke-width="1.6"/>
<polygon points="640.88,551.101 644.48,554.901 640.88,558.7009999999999 637.28,554.901" fill="#e02020" stroke="#a01010" stroke-width="0.5"/>
<polygon points="658.8199999999999,546.117 662.42,549.9169999999999 658.8199999999999,553.7169999999999 655.2199999999999,549.9169999999999" fill="#e02020" stroke="#a01010" stroke-width="0.5"/>
<polygon points="847.19,532.411 850.7900000000001,536.2109999999999 847.19,540.0109999999999 843.59,536.2109999999999" fill="#e02020" stroke="#a01010" stroke-width="0.5"/>
<polygon points="918.95,521.8199999999999 922.5500000000001,525.6199999999999 918.95,529.4199999999998 915.35,525.6199999999999" fill="#e02020" stroke="#a01010" stroke-width="0.5"/>
<rect x="637.38" y="547.04" width="7" height="7" fill="#1f9f4f" stroke="#5a7a3a" stroke-width="0.5"/>
<rect x="655.3199999999999" y="548.909" width="7" height="7" fill="#1f9f4f" stroke="#5a7a3a" stroke-width="0.5"/>
<rect x="843.69" y="528.973" width="7" height="7" fill="#1f9f4f" stroke="#5a7a3a" stroke-width="0.5"/>
<rect x="915.45" y="526.481" width="7" height="7" fill="#1f9f4f" stroke="#5a7a3a" stroke-width="0.5"/>
<polygon points="640.88,566.276 644.78,573.276 636.98,573.276" fill="#1f6fbf" stroke="#8a9a6a" stroke-width="0.5"/>
<polygon points="658.8199999999999,558.1769999999999 662.7199999999999,565.1769999999999 654.92,565.1769999999999" fill="#1f6fbf" stroke="#8a9a6a" stroke-width="0.5"/>
<polygon points="847.19,550.0779999999999 851.09,557.0779999999999 843.2900000000001,557.0779999999999" fill="#1f6fbf" stroke="#8a9a6a" stroke-width="0.5"/>
<polygon points="918.95,520.1739999999999 922.85,527.1739999999999 915.0500000000001,527.1739999999999" fill="#1f6fbf" stroke="#8a9a6a" stroke-width="0.5"/>
<circle cx="515.3" cy="625.3" r="3.7" fill="#e6e000" stroke="#a09a60" stroke-width="0.7"/>
<circle cx="640.88" cy="480.14099999999996" r="3.7" fill="#e6e000" stroke="#a09a60" stroke-width="0.7"/>
<circle cx="658.8199999999999" cy="470.17299999999994" r="3.7" fill="#e6e000" stroke="#a09a60" stroke-width="0.7"/>
<circle cx="847.19" cy="430.924" r="3.7" fill="#e6e000" stroke="#a09a60" stroke-width="0.7"/>
<circle cx="918.95" cy="415.9719999999999" r="3.7" fill="#e6e000" stroke="#a09a60" stroke-width="0.7"/>
<line x1="536.5" y1="379" x2="553" y2="379" stroke="#f03a3a" stroke-width="1.5"/>
<polygon points="544.7,375.2 548.3000000000001,379 544.7,382.8 541.1,379" fill="#e02020" stroke="#a01010" stroke-width="0.5"/>
<text x="555.5" y="382.6" font-family='"Liberation Sans", sans-serif' font-size="11" fill="#262626">RF-1</text>
<line x1="536.5" y1="398" x2="553" y2="398" stroke="#27a95a" stroke-width="1.5"/>
<rect x="541.2" y="394.5" width="7" height="7" fill="#1f9f4f" stroke="#5a7a3a" stroke-width="0.5"/>
<text x="555.5" y="401.6" font-family='"Liberation Sans", sans-serif' font-size="11" fill="#262626">RF-2</text>
<line x1="536.5" y1="416.6" x2="553" y2="416.6" stroke="#2a7bc6" stroke-width="1.5"/>
<polygon points="544.7,412.40000000000003 548.6,419.40000000000003 540.8000000000001,419.40000000000003" fill="#1f6fbf" stroke="#8a9a6a" stroke-width="0.5"/>
<text x="555.5" y="420.2" font-family='"Liberation Sans", sans-serif' font-size="11" fill="#262626">RF-3</text>
<line x1="536.5" y1="436" x2="553" y2="436" stroke="#e8e020" stroke-width="1.5"/>
<circle cx="544.7" cy="436" r="3.7" fill="#e6e000" stroke="#a09a60" stroke-width="0.7"/>
<text x="555.5" y="439.6" font-family='"Liberation Sans", sans-serif' font-size="11" fill="#262626">RF-4</text>
<line x1="536.5" y1="454" x2="553" y2="454" stroke="#a89a78" stroke-width="1.5" stroke-dasharray="5,3,1.5,3"/>
<text x="555.5" y="458" font-family='"Liberation Sans", sans-serif' font-size="11" fill="#262626">Mean</text>
<text x="461.3" y="397.4" font-family='"Liberation Sans", sans-serif' font-size="35" fill="#000">C</text>
<line x1="937" y1="576.7" x2="964.5" y2="576.7" stroke="#e21ed2" stroke-width="2.8" stroke-linecap="round"/>
<text x="969" y="580.3" font-family='"Liberation Sans", sans-serif' font-size="10" fill="#262626">2009</text>
<line x1="937" y1="595.3" x2="964.5" y2="595.3" stroke="#22a022" stroke-width="2.8" stroke-linecap="round"/>
<text x="969" y="598.9" font-family='"Liberation Sans", sans-serif' font-size="10" fill="#262626">2001</text>
<line x1="937" y1="614" x2="964.5" y2="614" stroke="#74d2f2" stroke-width="2.8" stroke-linecap="round"/>
<text x="969" y="617.6" font-family='"Liberation Sans", sans-serif' font-size="10" fill="#262626">1980</text>
<line x1="937" y1="632.7" x2="964.5" y2="632.7" stroke="#e8960e" stroke-width="2.8" stroke-linecap="round"/>
<text x="969" y="636.3" font-family='"Liberation Sans", sans-serif' font-size="10" fill="#262626">1978</text>
<line x1="937" y1="650.6" x2="964.5" y2="650.6" stroke="#8a0fa8" stroke-width="2.8" stroke-linecap="round"/>
<text x="969" y="654.2" font-family='"Liberation Sans", sans-serif' font-size="10" fill="#262626">1964</text>
</svg>
</body></html>
